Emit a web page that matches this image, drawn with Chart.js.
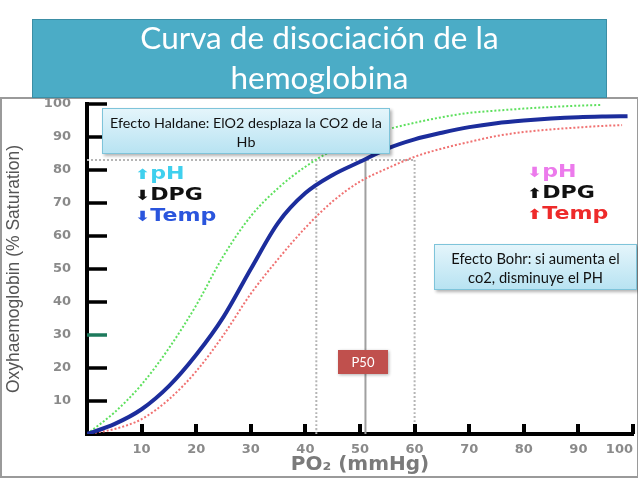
<!DOCTYPE html>
<html>
<head>
<meta charset="utf-8">
<script src="https://cdn.jsdelivr.net/npm/chart.js@4"></script>
<style>
  body { margin: 0; background: #fff; }
  #wrap { position: relative; width: 638px; height: 479px; overflow: hidden; }
  #marco { position: absolute; left: 0; top: 97px; width: 635px; height: 377px; border: 2px solid #9a9a9a; }
  canvas { position: absolute; left: 0; top: 0; }
  .titulo { position: absolute; left: 32px; top: 19px; width: 575px; height: 79px; background: #4bacc6; border: 1px solid #3b8ea5;
    color: #fff; font-family: Lato, "Open Sans", sans-serif; font-size: 31.5px; line-height: 40px; text-align: center; box-sizing: border-box; }
  .titulo div { position: relative; top: -3px; }
  .caja { position: absolute; background: linear-gradient(#e4f5fb, #b8e3f2); border: 1px solid #7ec4da; box-shadow: 2px 2px 3px rgba(0,0,0,0.3);
    font-family: Lato, "Open Sans", sans-serif; font-size: 14.3px; color: #111; text-align: center; line-height: 19px; box-sizing: border-box; padding-top: 4px; }
  .p50 { position: absolute; left: 338px; top: 350px; width: 50px; height: 24px; background: #c0504d; color: #fff; box-shadow: 1px 1px 3px rgba(0,0,0,0.3);
    font-family: Lato, "Open Sans", sans-serif; font-size: 13px; line-height: 24px; text-align: center; }
  .efecto { position: absolute; font-family: "DejaVu Sans", sans-serif; font-weight: bold; font-size: 17px; line-height: 20px;
    transform: scaleX(1.3); transform-origin: left top; white-space: nowrap; }
  .efecto span.fl { font-size: 14px; }
</style>
</head>
<body>
<div id="wrap">
  <div id="marco"></div>
  <canvas id="chartCurva" width="638" height="479"></canvas>
  <div class="titulo"><div>Curva de disociación de la<br>hemoglobina</div></div>
  <div class="caja" style="left:102px; top:108px; width:288px; height:46px;">Efecto Haldane: ElO2 desplaza la CO2 de la<br>Hb</div>
  <div class="caja" style="left:434px; top:244px; width:203px; height:46px; font-size:14.7px;">Efecto Bohr: si aumenta el<br>co2, disminuye el PH</div>
  <div class="p50">P50</div>
  <div class="efecto" style="left:135px; top:163px;">
    <div style="color:#3fd0ee"><span class="fl">⬆</span>pH</div>
    <div style="color:#111"><span class="fl">⬇</span>DPG</div>
    <div style="color:#2a55dd"><span class="fl">⬇</span>Temp</div>
  </div>
  <div class="efecto" style="left:527px; top:161px;">
    <div style="color:#ec7aec"><span class="fl">⬇</span>pH</div>
    <div style="color:#111"><span class="fl">⬆</span>DPG</div>
    <div style="color:#ee2a2a"><span class="fl">⬆</span>Temp</div>
  </div>
</div>
<script>
// Datos
const po2Normal = [0, 5, 10, 15, 20, 25, 30, 35, 40, 45, 50, 55, 60, 65, 70, 75, 80, 85, 90, 95, 99];
const satNormal = [0, 3, 7.5, 14.5, 24, 35.5, 50, 64, 73, 78.5, 82.5, 86.5, 89.3, 91.3, 93, 94.2, 95, 95.6, 96, 96.2, 96.3];

const po2Izq = [0, 5, 10, 15, 20, 25, 30, 35, 40, 45, 50, 55, 60, 65, 70, 75, 80, 85, 90, 94];
const satIzq = [0, 6.5, 15, 26, 39, 54, 66, 74.5, 81, 86, 89.5, 92.3, 94.3, 96, 97.3, 98, 98.6, 99.1, 99.5, 99.7];

const po2Der = [0, 5, 10, 15, 20, 25, 30, 35, 40, 45, 50, 55, 60, 65, 70, 75, 80, 85, 90, 95, 98];
const satDer = [0, 1.5, 4.5, 10.5, 19, 30, 42.5, 53, 62.5, 70.5, 76.5, 80.5, 84, 86.5, 88.5, 90.3, 91.5, 92.3, 92.9, 93.4, 93.6];

// Líneas de referencia (P50)
const lineasVerticales = [42, 51, 60];
const satReferencia = 83;
const finHorizontal = 60;

const ticksX = [10, 20, 30, 40, 50, 60, 70, 80, 90, 100];
const ticksY = [10, 20, 30, 40, 50, 60, 70, 80, 90, 100];

const colores = {
    normal: '#1c2d9c',
    izq: '#5ee05e',
    der: '#f07272',
    gris: '#b5b5b5',
    grisOscuro: '#a0a0a0',
    textoEje: '#8a8a8a'
};

function puntos(xs, ys) {
    return xs.map((x, i) => ({ x: x, y: ys[i] }));
}

// Marcas de los ejes hacia dentro
const marcasEjes = {
    id: 'marcasEjes',
    afterDatasetsDraw(chart) {
        const ctx = chart.ctx;
        const x = chart.scales.x, y = chart.scales.y;
        ctx.save();
        ctx.lineWidth = 3.5;
        ticksY.forEach(v => {
            const py = Math.round(y.getPixelForValue(v));
            ctx.strokeStyle = v === 30 ? '#1d7a5c' : '#000';
            ctx.beginPath();
            ctx.moveTo(x.left, py);
            ctx.lineTo(x.left + 20, py);
            ctx.stroke();
        });
        ctx.strokeStyle = '#000';
        ctx.lineWidth = 4;
        ticksX.forEach(v => {
            const px = Math.round(x.getPixelForValue(v));
            ctx.beginPath();
            ctx.moveTo(px, y.bottom);
            ctx.lineTo(px, y.bottom - 10);
            ctx.stroke();
        });
        ctx.restore();
    }
};

const datasets = [
    {
        data: puntos(po2Normal, satNormal),
        borderColor: colores.normal,
        borderWidth: 4,
        order: 1
    },
    {
        data: puntos(po2Izq, satIzq),
        borderColor: colores.izq,
        borderWidth: 2,
        borderDash: [2, 2],
        order: 2
    },
    {
        data: puntos(po2Der, satDer),
        borderColor: colores.der,
        borderWidth: 2,
        borderDash: [2, 2],
        order: 3
    },
    {
        data: [{ x: 0, y: satReferencia }, { x: finHorizontal, y: satReferencia }],
        borderColor: colores.gris,
        borderWidth: 2,
        borderDash: [2, 2],
        tension: 0,
        order: 5
    }
];
lineasVerticales.forEach((v, i) => {
    datasets.push({
        data: [{ x: v, y: 0 }, { x: v, y: satReferencia }],
        borderColor: i === 1 ? colores.grisOscuro : colores.gris,
        borderWidth: 2,
        borderDash: i === 1 ? [] : [2, 2],
        tension: 0,
        order: 4
    });
});

new Chart(document.getElementById('chartCurva'), {
    type: 'line',
    data: { datasets: datasets },
    plugins: [marcasEjes],
    options: {
        responsive: false,
        animation: false,
        layout: { padding: { top: 104, right: 5, left: 0, bottom: 0 } },
        elements: {
            point: { radius: 0 },
            line: { tension: 0.4, cubicInterpolationMode: 'monotone', fill: false }
        },
        plugins: { legend: { display: false }, tooltip: { enabled: false } },
        scales: {
            x: {
                type: 'linear',
                min: 0,
                max: 100,
                grid: { display: false, drawTicks: false },
                border: { color: '#000', width: 4 },
                ticks: {
                    stepSize: 10,
                    align: 'inner',
                    padding: 8,
                    color: colores.textoEje,
                    font: { family: 'DejaVu Sans', weight: 'bold', size: 13 },
                    callback: v => v === 0 ? '' : v
                },
                title: {
                    display: true,
                    text: 'PO₂ (mmHg)',
                    color: '#7a7a7a',
                    font: { family: 'DejaVu Sans', weight: 'bold', size: 20 },
                    padding: { top: 0, bottom: 2 }
                },
                afterFit: s => { s.height = 45; s.paddingLeft = 0; s.paddingRight = 0; }
            },
            y: {
                min: 0,
                max: 100,
                grid: { display: false, drawTicks: false },
                border: { color: '#000', width: 4 },
                ticks: {
                    stepSize: 10,
                    padding: 16,
                    color: colores.textoEje,
                    font: { family: 'DejaVu Sans', weight: 'bold', size: 13 },
                    callback: v => v === 0 ? '' : v
                },
                title: {
                    display: true,
                    text: 'Oxyhaemoglobin (% Saturation)',
                    color: '#555',
                    font: { family: 'Liberation Sans', size: 17.5 },
                    padding: { top: 4, bottom: 0 }
                },
                afterFit: s => { s.width = 87; s.paddingTop = 0; s.paddingBottom = 0; }
            }
        }
    }
});
</script>
</body>
</html>
